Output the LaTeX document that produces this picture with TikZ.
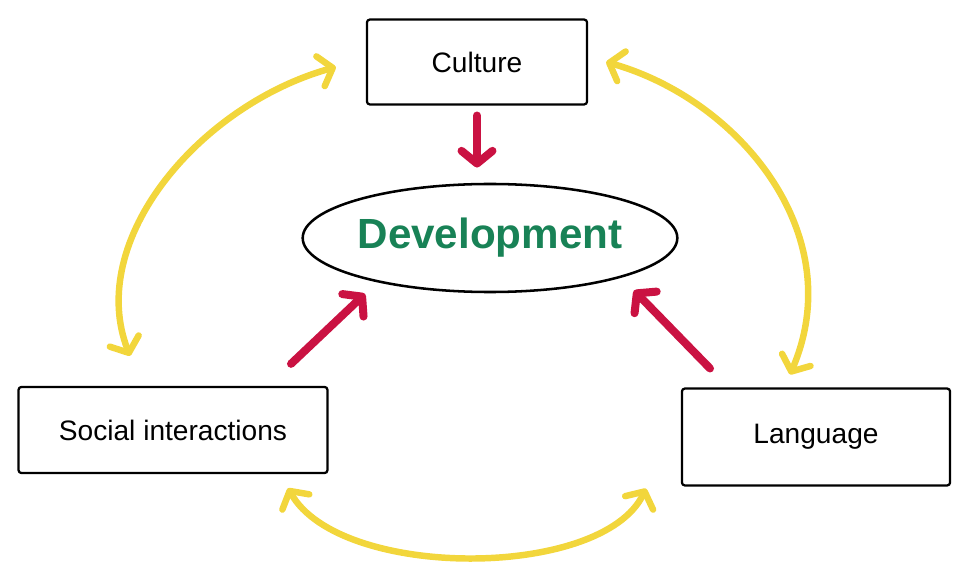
\documentclass[tikz,border=0pt]{standalone}
\usepackage{fontspec}
\setmainfont{Liberation Sans}
\usetikzlibrary{shapes.geometric,arrows.meta,calc}
\definecolor{devgreen}{RGB}{24,130,86}
\definecolor{linkred}{RGB}{202,18,66}
\definecolor{linkgold}{RGB}{242,214,60}
\begin{document}
\begin{tikzpicture}[x=.025cm, y=-.025cm,
  box/.style={draw, line width=1.6pt, rounded corners=2pt, font=\fontsize{20}{24}\selectfont},
  oval/.style={ellipse, draw, line width=1.8pt, minimum width=8.95cm, minimum height=2.7cm,
    inner sep=0pt, font=\fontsize{30}{36}\selectfont\bfseries, text=devgreen},
  barb/.tip={Straight Barb[length=9pt, width=22pt, round, line width=0pt 1]},
  redarrow/.style={draw=linkred, line width=5.7pt, line cap=round, -barb},
  yellowarrow/.style={draw=linkgold, line width=4.6pt, line cap=round, barb-barb}]
  \useasboundingbox (0,0) rectangle (970,576);
  \node[box, minimum width=5.5cm, minimum height=2.12cm] (culture) at (477,62) {Culture};
  \node[oval] (dev) at (490,238) {Development};
  \node[box, minimum width=7.72cm, minimum height=2.15cm] (social) at (173,430) {Social interactions};
  \node[box, minimum width=6.7cm, minimum height=2.42cm] (language) at (816,437) {Language};
  % red arrows into the ellipse
  \coordinate (c1) at ($(culture.south)+(0,10)$); \coordinate (c2) at ($(culture.south)+(0,62)$);
  \coordinate (s1) at ($(social.north)+(118,-22)$); \coordinate (s2) at ($(social.north)+(192,-92)$);
  \coordinate (l1) at ($(language.north)+(-106,-19)$); \coordinate (l2) at ($(language.north)+(-182,-97)$);
  \foreach \a/\b in {c1/c2,s1/s2,l1/l2}
    \draw[redarrow] (\a) -- (\b);
  % yellow arcs between the boxes
  \coordinate (cw) at ($(culture.west)+(-30,5)$); \coordinate (sn) at ($(social.north)+(-43,-30)$);
  \coordinate (ce) at ($(culture.east)+(18,0)$); \coordinate (ln) at ($(language.north)+(-26,-13)$);
  \coordinate (ss) at ($(social.south)+(115,14)$); \coordinate (ls) at ($(language.south)+(-170,2)$);
  \draw[yellowarrow] (sn) .. controls (85,240) and (200,105) .. (cw);
  \draw[yellowarrow] (ce) .. controls (740,100) and (850,235) .. (ln);
  \draw[yellowarrow] (ss) .. controls (340,580) and (602,580) .. (ls);
\end{tikzpicture}
\end{document}
